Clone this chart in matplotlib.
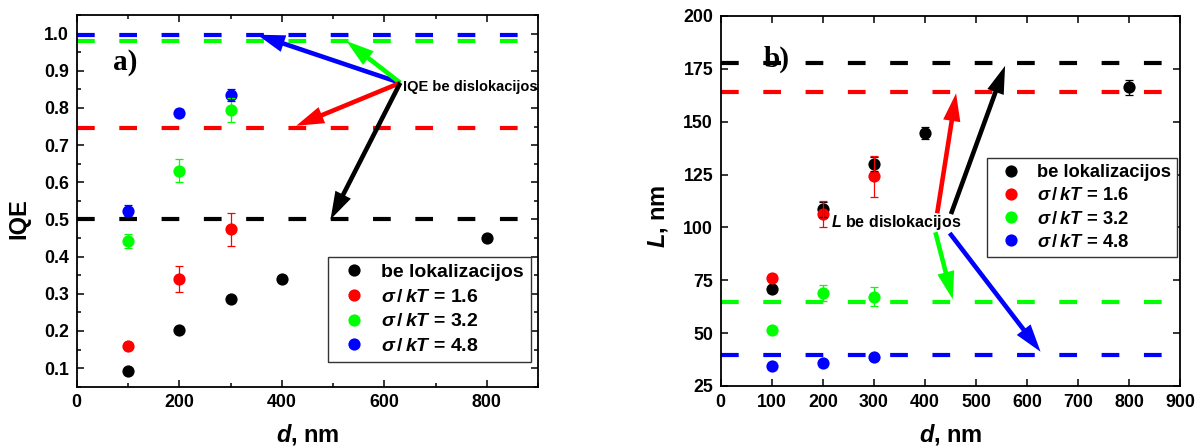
import matplotlib
matplotlib.use("Agg")
import matplotlib.pyplot as plt
from matplotlib.ticker import MultipleLocator

plt.rcParams['font.family'] = ['Liberation Sans', 'DejaVu Sans']
plt.rcParams['font.weight'] = 'bold'
plt.rcParams['axes.labelweight'] = 'bold'
plt.rcParams['mathtext.fontset'] = 'custom'
plt.rcParams['mathtext.rm'] = 'Liberation Sans:bold'
plt.rcParams['mathtext.bf'] = 'Liberation Sans:bold'
plt.rcParams['mathtext.it'] = 'Liberation Sans:italic:bold'
plt.rcParams['mathtext.default'] = 'it'

# ---------------- data ----------------
d_black = [100, 200, 300, 400, 800]
d_sig = [100, 200, 300]

labels = ['be lokalizacijos', r'$\sigma\,/\,kT$ = 1.6', r'$\sigma\,/\,kT$ = 3.2', r'$\sigma\,/\,kT$ = 4.8']
colors = ['#000000', '#ff0000', '#00ff00', '#0000ff']

# panel a) IQE
iqe_black = [0.091, 0.203, 0.287, 0.340, 0.450]
iqe_black_err = [0.0, 0.0, 0.0, 0.0, 0.0]
iqe_s16 = [0.160, 0.339, 0.473]
iqe_s16_err = [0.006, 0.035, 0.044]
iqe_s32 = [0.442, 0.631, 0.795]
iqe_s32_err = [0.019, 0.031, 0.032]
iqe_s48 = [0.524, 0.787, 0.836]
iqe_s48_err = [0.016, 0.010, 0.016]
iqe_levels = [0.501, 0.746, 0.980, 0.997]   # black, red, green, blue

# panel b) L, nm
L_black = [71.0, 108.5, 130.0, 144.8, 166.2]
L_black_err = [1.0, 3.5, 3.5, 2.9, 3.5]
L_s16 = [76.3, 106.3, 124.1]
L_s16_err = [1.5, 6.0, 9.5]
L_s32 = [51.7, 69.0, 67.2]
L_s32_err = [0.5, 3.6, 4.4]
L_s48 = [34.6, 35.7, 38.5]
L_s48_err = [0.5, 0.5, 0.5]
L_levels = [177.8, 164.0, 64.6, 39.8]       # black, red, green, blue

line_x = [0, 865]

# arrows: (start, tip) in data coordinates, colours as in the chart
iqe_arrow_start = (631, 0.8675)
iqe_arrow_tips = {'#0000ff': (352, 0.997), '#00ff00': (526, 0.980),
                  '#ff0000': (428, 0.752), '#000000': (495, 0.500)}
L_arrows = {'#ff0000': ((424, 106.7), (461, 163.4)),
            '#000000': ((451, 106.3), (557, 176.4)),
            '#00ff00': ((420.5, 97.7), (454.5, 66.0)),
            '#0000ff': ((448.5, 97.3), (626.5, 41.2))}

# ---------------- figure ----------------
fig = plt.figure(figsize=(11.96, 4.48), dpi=100)
ax1 = fig.add_axes([0.0641, 0.1368, 0.3859, 0.8297])
ax2 = fig.add_axes([0.6026, 0.1384, 0.3842, 0.8260])

LW = 3.0
dash = (0, (12.75 / LW, 17.7 / LW))


def draw(ax, xs_list, ys_list, errs_list, levels):
    for lvl, c in zip(levels, colors):
        ax.plot(line_x, [lvl, lvl], color=c, lw=LW, linestyle=dash, zorder=2,
                solid_capstyle='butt')
    for xs, ys, c, lab in zip(xs_list, ys_list, colors, labels):
        ax.plot(xs, ys, 'o', color=c, ms=8.8, mec='none', label=lab, zorder=3)
    for xs, ys, es, c in zip(xs_list, ys_list, errs_list, colors):
        ax.errorbar(xs, ys, yerr=es, fmt='none', ecolor=c, elinewidth=0.9,
                    capsize=2.8, capthick=0.9, zorder=4)
    for sp in ax.spines.values():
        sp.set_linewidth(1.3)
    ax.tick_params(which='both', direction='in', top=True, right=True,
                   width=1.1, labelsize=12.8, pad=5.5)
    ax.tick_params(which='major', length=5)
    ax.tick_params(which='minor', length=2.8)


def arrow(ax, start, tip, c):
    ax.annotate('', xy=tip, xytext=start,
                arrowprops=dict(arrowstyle='simple,head_length=2.0,head_width=1.25,tail_width=0.33',
                                mutation_scale=10, fc=c, ec='none',
                                shrinkA=0, shrinkB=0), zorder=5)


# panel a
draw(ax1, [d_black, d_sig, d_sig, d_sig], [iqe_black, iqe_s16, iqe_s32, iqe_s48],
     [iqe_black_err, iqe_s16_err, iqe_s32_err, iqe_s48_err], iqe_levels)
ax1.set_xlim(0, 900)
ax1.set_ylim(0.05, 1.05)
ax1.xaxis.set_major_locator(MultipleLocator(200))
ax1.xaxis.set_minor_locator(MultipleLocator(100))
ax1.yaxis.set_major_locator(MultipleLocator(0.1))
ax1.yaxis.set_minor_locator(MultipleLocator(0.05))
ax1.set_ylabel('IQE', fontsize=17)
ax1.set_xlabel(r'$d$, nm', fontsize=17)
ax1.yaxis.set_label_coords(-0.100, 0.453)
ax1.xaxis.set_label_coords(0.501, -0.096)
for c, tip in iqe_arrow_tips.items():
    arrow(ax1, iqe_arrow_start, tip, c)
ax1.text(637, 0.846, 'IQE be dislokacijos', fontsize=10.5, ha='left', va='baseline', zorder=6)
ax1.text(71, 0.903, 'a)', fontsize=21, family='Liberation Serif', weight='bold',
         ha='left', va='baseline', zorder=1)
leg1 = ax1.legend(loc='upper left', bbox_to_anchor=(0.5445, 0.3497), borderaxespad=0,
                  fancybox=False, edgecolor='#333333', framealpha=1, fontsize=14,
                  handlelength=2.0, handletextpad=0.4, borderpad=0.35, labelspacing=0.36)
leg1.get_frame().set_linewidth(1.0)

# panel b
draw(ax2, [d_black, d_sig, d_sig, d_sig], [L_black, L_s16, L_s32, L_s48],
     [L_black_err, L_s16_err, L_s32_err, L_s48_err], L_levels)
ax2.set_xlim(0, 900)
ax2.set_ylim(25, 200)
ax2.xaxis.set_major_locator(MultipleLocator(100))
ax2.yaxis.set_major_locator(MultipleLocator(25))
ax2.set_ylabel(r'$L$, nm', fontsize=17)
ax2.set_xlabel(r'$d$, nm', fontsize=17)
ax2.yaxis.set_label_coords(-0.110, 0.4576)
ax2.xaxis.set_label_coords(0.501, -0.097)
for c, (s, t) in L_arrows.items():
    arrow(ax2, s, t, c)
ax2.text(215.6, 100.2, r'$L$ be dislokacijos', fontsize=11.5, ha='left', va='baseline', zorder=6)
ax2.text(83.5, 175.8, 'b)', fontsize=21, family='Liberation Serif', weight='bold',
         ha='left', va='baseline', zorder=1)
leg2 = ax2.legend(loc='upper left', bbox_to_anchor=(0.5785, 0.617), borderaxespad=0,
                  fancybox=False, edgecolor='#333333', framealpha=1, fontsize=13.2,
                  handlelength=2.0, handletextpad=0.4, borderpad=0.35, labelspacing=0.34)
leg2.get_frame().set_linewidth(1.0)

fig.savefig('out.png', dpi=100)
